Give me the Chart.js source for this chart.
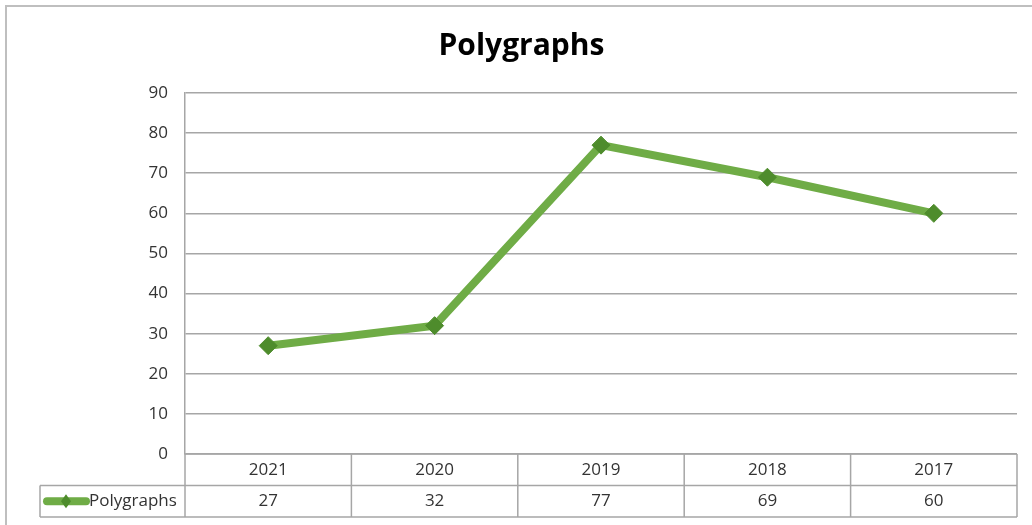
<!DOCTYPE html>
<html>
<head>
<meta charset="utf-8">
<script src="https://cdn.jsdelivr.net/npm/chart.js@4"></script>
<style>
  html, body { margin: 0; padding: 0; background: #fff; }
  #wrap { position: relative; width: 1032px; height: 525px; }
</style>
</head>
<body>
<div id="wrap"><canvas id="chart" width="1032" height="525"></canvas></div>
<script>
const years = ['2021', '2020', '2019', '2018', '2017'];
const polygraphs = [27, 32, 77, 69, 60];
const yTicks = { min: 0, max: 90, step: 10 };

const lineColor = '#6fac46';
const markerColor = '#4e8c2c';
const gridColor = '#a6a6a6';
const textColor = '#333333';
const fontFamily = "'Open Sans', 'Noto Sans', sans-serif";

// outer frame + data table under the plot (columns follow the x scale)
const tablePlugin = {
  id: 'dataTable',
  beforeDraw(chart) {
    const ctx = chart.ctx;
    ctx.save();
    ctx.strokeStyle = '#bfbfbf';
    ctx.lineWidth = 2;
    ctx.strokeRect(6, 6, chart.width + 20, chart.height + 20);
    ctx.restore();
  },
  afterDraw(chart) {
    const ctx = chart.ctx;
    const area = chart.chartArea;
    const x = chart.scales.x;
    const rowH = 31.5;
    const top = area.bottom;
    const mid = top + rowH;
    const bottom = mid + rowH;
    const legendLeft = 40;
    const half = (x.getPixelForValue(1) - x.getPixelForValue(0)) / 2;
    const edges = [area.left];
    years.forEach((_, i) => edges.push(x.getPixelForValue(i) + half));

    ctx.save();
    ctx.strokeStyle = gridColor;
    ctx.lineWidth = 1.5;
    ctx.beginPath();
    ctx.moveTo(area.left, top); ctx.lineTo(area.right, top);
    ctx.moveTo(legendLeft, mid); ctx.lineTo(area.right, mid);
    ctx.moveTo(legendLeft, bottom); ctx.lineTo(area.right, bottom);
    edges.forEach((ex) => { ctx.moveTo(ex, top); ctx.lineTo(ex, bottom); });
    ctx.moveTo(legendLeft, mid); ctx.lineTo(legendLeft, bottom);
    ctx.stroke();

    ctx.fillStyle = textColor;
    ctx.font = '17px ' + fontFamily;
    ctx.textAlign = 'center';
    ctx.textBaseline = 'middle';
    years.forEach((y, i) => {
      const cx = x.getPixelForValue(i);
      ctx.fillText(y, cx, top + rowH / 2);
      ctx.fillText(String(polygraphs[i]), cx, mid + rowH / 2);
    });

    // legend key in the row header
    const ly = mid + rowH / 2;
    ctx.strokeStyle = lineColor;
    ctx.lineWidth = 8;
    ctx.lineCap = 'round';
    ctx.beginPath();
    ctx.moveTo(47, ly); ctx.lineTo(86, ly);
    ctx.stroke();
    ctx.fillStyle = markerColor;
    ctx.beginPath();
    ctx.moveTo(66, ly - 7); ctx.lineTo(71, ly); ctx.lineTo(66, ly + 7); ctx.lineTo(61, ly);
    ctx.closePath();
    ctx.fill();
    ctx.fillStyle = textColor;
    ctx.textAlign = 'left';
    ctx.fillText('Polygraphs', 89, ly);
    ctx.restore();
  },
};

new Chart(document.getElementById('chart'), {
  type: 'line',
  data: {
    labels: years,
    datasets: [{
      label: 'Polygraphs',
      data: polygraphs,
      borderColor: lineColor,
      borderWidth: 8,
      pointStyle: 'rectRot',
      pointRadius: 9,
      pointBackgroundColor: markerColor,
      pointBorderColor: markerColor,
      pointBorderWidth: 1,
      tension: 0,
    }],
  },
  options: {
    responsive: false,
    animation: false,
    layout: { padding: { top: 0, right: 15, bottom: 71, left: 26 } },
    plugins: {
      legend: { display: false },
      tooltip: { enabled: false },
      title: {
        display: true,
        text: 'Polygraphs',
        color: '#000',
        font: { family: fontFamily, size: 30, weight: 'bold' },
        padding: { top: 28, bottom: 29 },
      },
    },
    scales: {
      x: {
        display: false,
        offset: true,
      },
      y: {
        min: yTicks.min,
        max: yTicks.max,
        afterFit(scale) { scale.width = 159; },
        ticks: {
          stepSize: yTicks.step,
          color: textColor,
          padding: 17,
          font: { family: fontFamily, size: 17 },
        },
        grid: { color: gridColor, lineWidth: 1.5, drawTicks: false },
        border: { display: true, color: gridColor, width: 1.5 },
      },
    },
  },
  plugins: [tablePlugin],
});
</script>
</body>
</html>
